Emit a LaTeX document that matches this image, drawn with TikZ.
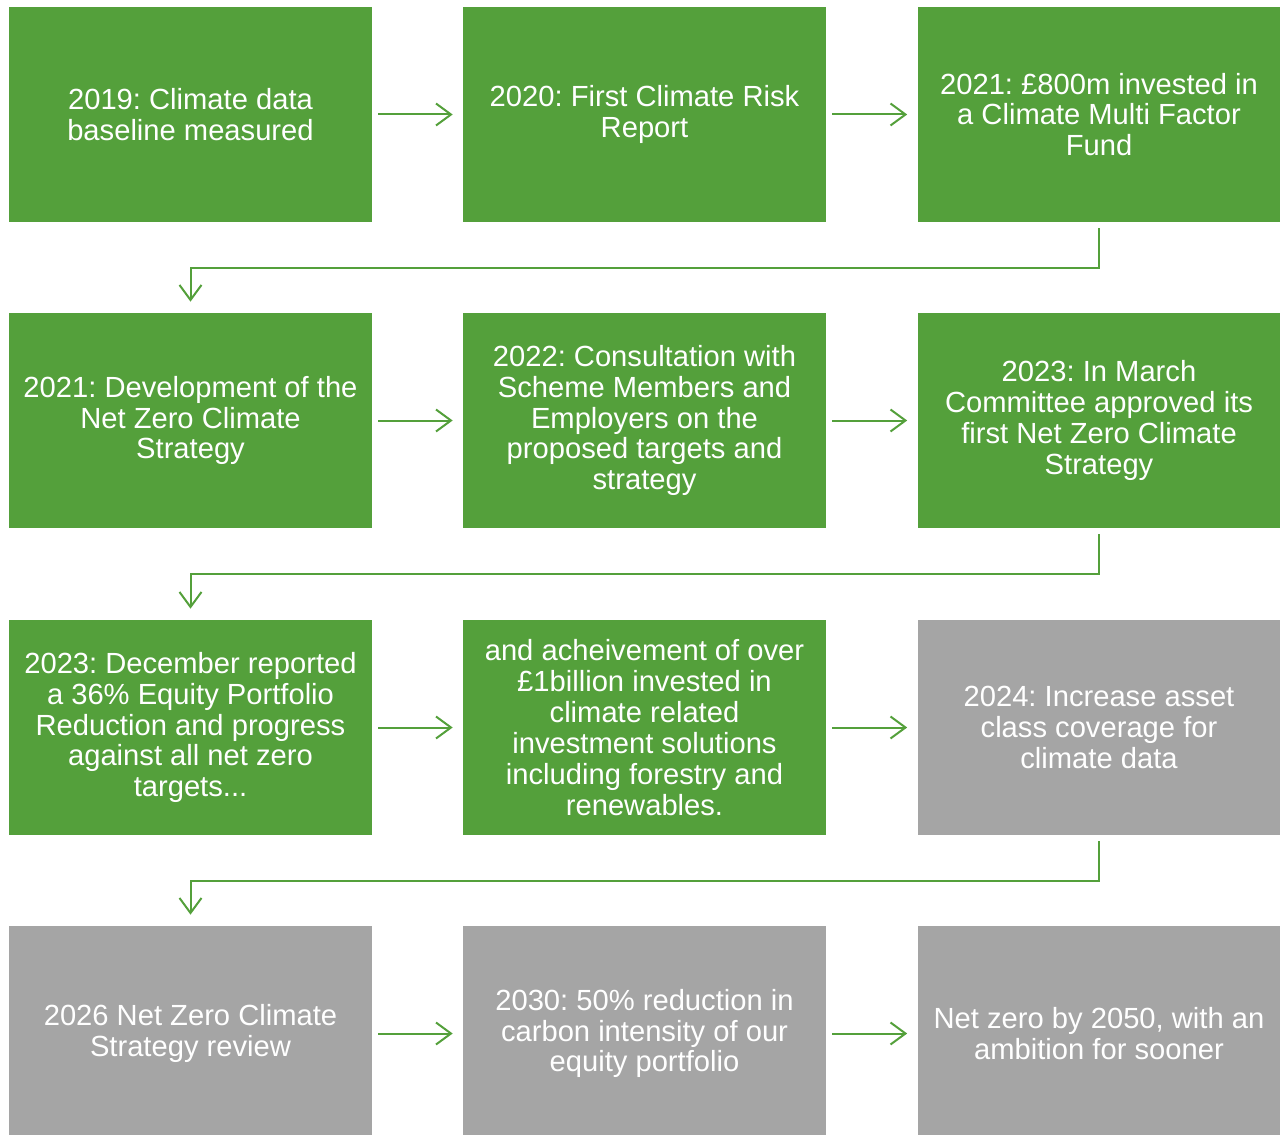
\documentclass[tikz,border=0pt]{standalone}
\usepackage{fontspec}
\setmainfont{Liberation Sans}
\usepackage{tikz}
\usetikzlibrary{arrows.meta,positioning}

\definecolor{leafgreen}{RGB}{84,160,59}
\definecolor{planegray}{RGB}{165,165,165}
\frenchspacing

\begin{document}
\begin{tikzpicture}[x=0.02cm, y=-0.02cm]
			\tikzstyle{Box}		= [rectangle, minimum width=7.26cm, minimum height=4.3cm, inner sep=0pt, text=white, align=center, font=\fontsize{16.6}{17.6}\selectfont]
			\tikzstyle{Done}	= [fill=leafgreen]
			\tikzstyle{Plan}	= [fill=planegray]
			\tikzstyle{Link}	= [leafgreen, line width=0.04cm, -{Straight Barb[length=0.3cm, width=0.44cm]}, shorten <=0.12cm, shorten >=0.2cm]
			\tikzstyle{Turn}	= [leafgreen, line width=0.04cm, -{Straight Barb[length=0.3cm, width=0.44cm]}, shorten <=0.12cm, shorten >=0.22cm]

			\useasboundingbox (0,0) rectangle (1288,1135);

			% row 1
			\node (b1) at (190.5,114.5) [Box][Done] {2019: Climate data\\baseline measured};
			\node (b2) at (644.5,114.5) [Box][Done] {2020: First Climate Risk\\Report};
			\node (b3) at (1099,114.5) [Box][Done] {2021: £800m invested in\\a Climate Multi Factor\\Fund};
			% row 2
			\node (b4) at (190.5,420.5) [Box][Done] {2021: Development of the\\Net Zero Climate\\Strategy};
			\node (b5) at (644.5,420.5) [Box][Done] {2022: Consultation with\\Scheme Members and\\Employers on the\\proposed targets and\\strategy};
			\node (b6) at (1099,420.5) [Box][Done] {2023: In March\\Committee approved its\\first Net Zero Climate\\Strategy};
			% row 3
			\node (b7) at (190.5,727.5) [Box][Done] {2023: December reported\\a 36\% Equity Portfolio\\Reduction and progress\\against all net zero\\targets...};
			\node (b8) at (644.5,727.5) [Box][Done] {and acheivement of over\\£1billion invested in\\climate related\\investment solutions\\including forestry and\\renewables.};
			\node (b9) at (1099,727.5) [Box][Plan] {2024: Increase asset\\class coverage for\\climate data};
			% row 4
			\node (b10) at (190.5,1033.5) [Box][Plan] {2026 Net Zero Climate\\Strategy review};
			\node (b11) at (644.5,1033.5) [Box][Plan] {2030: 50\% reduction in\\carbon intensity of our\\equity portfolio};
			\node (b12) at (1099,1033.5) [Box][Plan] {Net zero by 2050, with an\\ambition for sooner};

			\draw (b1) to (b2) [Link];
			\draw (b2) to (b3) [Link];
			\draw (b4) to (b5) [Link];
			\draw (b5) to (b6) [Link];
			\draw (b7) to (b8) [Link];
			\draw (b8) to (b9) [Link];
			\draw (b10) to (b11) [Link];
			\draw (b11) to (b12) [Link];

			\draw (b3.south) -- ++(0,46) -| (b4.north) [Turn];
			\draw (b6.south) -- ++(0,46) -| (b7.north) [Turn];
			\draw (b9.south) -- ++(0,46) -| (b10.north) [Turn];
		\end{tikzpicture}
\end{document}
